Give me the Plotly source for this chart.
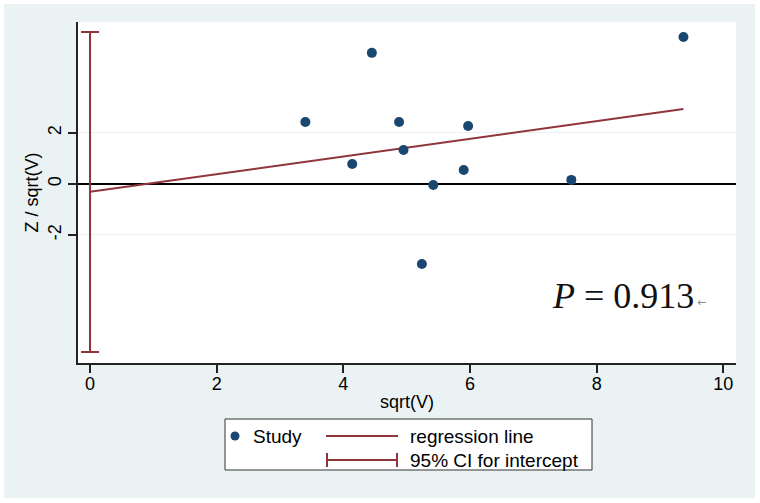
import plotly.graph_objects as go

# Galbraith-style plot data
sqrt_v = [3.40, 4.14, 4.45, 4.88, 4.95, 5.24, 5.42, 5.90, 5.97, 7.60, 9.37]
z_sqrt_v = [2.43, 0.78, 5.14, 2.43, 1.33, -3.14, -0.04, 0.55, 2.27, 0.16, 5.76]

reg_x = [0, 9.37]
reg_y = [-0.31, 2.94]

ci_x = [0]
ci_mid = [-0.31]
ci_low = [-6.59]
ci_high = [5.96]

x_ticks = [0, 2, 4, 6, 8, 10]
y_ticks = [-2, 0, 2]
y_tick_text = ["-2", "0", "2"]

NAVY = "#1A476F"
MAROON = "#90353B"
BG = "#EAF2F3"
FONT = "Liberation Sans, Arial, sans-serif"

W, H = 760, 503
ML, MR, MT, MB = 78, 24, 22, 140
PW, PH = W - ML - MR, H - MT - MB


def px(x):
    return (x - ML) / PW


def py(y):
    return (H - MB - y) / PH


fig = go.Figure()

fig.add_trace(go.Scatter(
    x=ci_x, y=ci_mid, mode="markers",
    marker=dict(size=1, color="rgba(0,0,0,0)"),
    error_y=dict(type="data", symmetric=False,
                 array=[h - m for h, m in zip(ci_high, ci_mid)],
                 arrayminus=[m - l for m, l in zip(ci_mid, ci_low)],
                 color=MAROON, thickness=2, width=9),
    showlegend=False, hoverinfo="skip"))

fig.add_trace(go.Scatter(
    x=reg_x, y=reg_y, mode="lines",
    line=dict(color=MAROON, width=2), showlegend=False))

fig.add_trace(go.Scatter(
    x=sqrt_v, y=z_sqrt_v, mode="markers",
    marker=dict(size=10, color=NAVY), showlegend=False))

shapes = [
    # outer light background and white plot region
    dict(type="rect", xref="paper", yref="paper", layer="below",
         x0=px(4), x1=px(755), y0=py(498), y1=py(4),
         fillcolor=BG, line=dict(width=0)),
    dict(type="rect", xref="paper", yref="paper", layer="below",
         x0=0, x1=1, y0=0, y1=1, fillcolor="white", line=dict(width=0)),
    # legend box
    dict(type="rect", xref="paper", yref="paper",
         x0=px(225), x1=px(592), y0=py(470), y1=py(419),
         fillcolor="white", line=dict(color="#333333", width=1)),
    dict(type="circle", xref="paper", yref="paper",
         x0=px(230.5), x1=px(239.5), y0=py(440.5), y1=py(431.5),
         fillcolor=NAVY, line=dict(width=0)),
    dict(type="line", xref="paper", yref="paper",
         x0=px(326), x1=px(398), y0=py(436), y1=py(436),
         line=dict(color=MAROON, width=2)),
    dict(type="line", xref="paper", yref="paper",
         x0=px(326), x1=px(398), y0=py(460), y1=py(460),
         line=dict(color=MAROON, width=2)),
    dict(type="line", xref="paper", yref="paper",
         x0=px(327), x1=px(327), y0=py(453), y1=py(467),
         line=dict(color=MAROON, width=2)),
    dict(type="line", xref="paper", yref="paper",
         x0=px(397), x1=px(397), y0=py(453), y1=py(467),
         line=dict(color=MAROON, width=2)),
]

annotations = [
    dict(text="Study", x=px(251), y=py(436), xanchor="left", yanchor="middle"),
    dict(text="regression line", x=px(408), y=py(436), xanchor="left", yanchor="middle"),
    dict(text="95% CI for intercept", x=px(408), y=py(460), xanchor="left", yanchor="middle"),
]
for a in annotations:
    a.update(xref="paper", yref="paper", showarrow=False,
             font=dict(family=FONT, size=19, color="black"))

annotations.append(dict(
    text="<i>P</i> = 0.913", x=px(696), y=py(296), xref="paper", yref="paper",
    xanchor="right", yanchor="middle", showarrow=False,
    font=dict(family="Liberation Serif, Times New Roman, serif", size=36, color="#111111")))
annotations.append(dict(
    text="\u2190", x=px(695), y=py(302), xref="paper", yref="paper",
    xanchor="left", yanchor="middle", showarrow=False,
    font=dict(family="DejaVu Sans", size=11, color="#8a8a8a")))

fig.update_layout(
    width=W, height=H,
    margin=dict(l=ML, r=MR, t=MT, b=MB),
    paper_bgcolor="white", plot_bgcolor="white",
    font=dict(family=FONT, size=18, color="black"),
    shapes=shapes, annotations=annotations,
    showlegend=False,
)

fig.update_xaxes(
    range=[-0.19, 10.2], tickvals=x_ticks, showgrid=False, zeroline=False,
    showline=True, linecolor="#222222", linewidth=1.5,
    ticks="outside", ticklen=8, tickcolor="#222222", tickwidth=1.5,
    tickfont=dict(size=18), ticklabelstandoff=-4,
    title=dict(text="sqrt(V)", font=dict(size=18), standoff=2),
)

fig.update_yaxes(
    range=[-7.02, 6.35], tickvals=y_ticks, ticktext=y_tick_text, tickangle=-90,
    showgrid=True, gridcolor=BG, gridwidth=1,
    zeroline=True, zerolinecolor="black", zerolinewidth=2,
    showline=True, linecolor="#222222", linewidth=1.5,
    ticks="outside", ticklen=8, tickcolor="#222222", tickwidth=1.5,
    tickfont=dict(size=18), ticklabelstandoff=0,
    title=dict(text="Z / sqrt(V)", font=dict(size=18), standoff=2),
)

fig.write_html("out.html", config={"displayModeBar": False},
               post_script="document.body.style.margin='0';")
